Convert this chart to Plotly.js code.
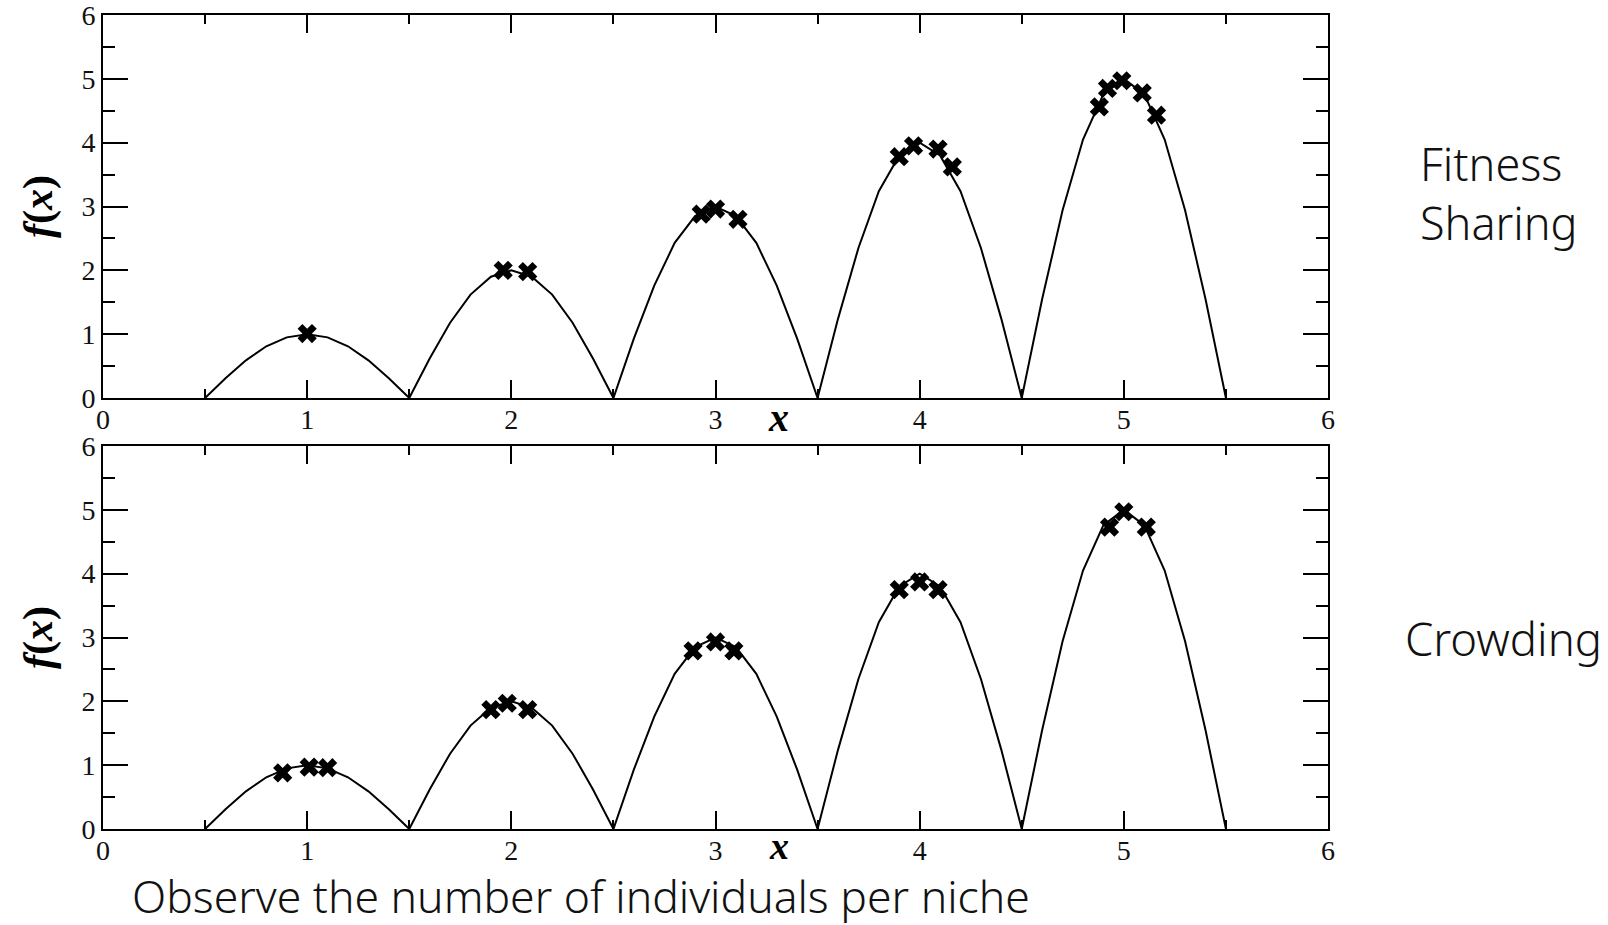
<!DOCTYPE html>
<html>
<head>
<meta charset="utf-8">
<script src="https://cdn.plot.ly/plotly-3.0.1.min.js"></script>
<style>html,body{margin:0;padding:0;background:#fff;}#chart{width:1608px;height:925px;}</style>
</head>
<body>
<div id="chart"></div>
<script>
// Curve f(x): five humps sampled every 0.1 on x
const curveX = [
  0.5,0.6,0.7,0.8,0.9,1.0,1.1,1.2,1.3,1.4,
  1.5,1.6,1.7,1.8,1.9,2.0,2.1,2.2,2.3,2.4,
  2.5,2.6,2.7,2.8,2.9,3.0,3.1,3.2,3.3,3.4,
  3.5,3.6,3.7,3.8,3.9,4.0,4.1,4.2,4.3,4.4,
  4.5,4.6,4.7,4.8,4.9,5.0,5.1,5.2,5.3,5.4,5.5
];
const curveY = [
  0,0.31,0.59,0.81,0.95,1.00,0.95,0.81,0.59,0.31,
  0,0.62,1.18,1.62,1.90,2.00,1.90,1.62,1.18,0.62,
  0,0.93,1.76,2.43,2.85,3.00,2.85,2.43,1.76,0.93,
  0,1.24,2.35,3.24,3.80,4.00,3.80,3.24,2.35,1.24,
  0,1.55,2.94,4.05,4.76,5.00,4.76,4.05,2.94,1.55,0
];
// Individuals found by Fitness Sharing (top panel)
const sharingX = [1.00, 1.96,2.08, 2.93,3.00,3.11, 3.90,3.97,4.09,4.16, 4.88,4.92,4.99,5.09,5.16];
const sharingY = [1.01, 2.00,1.98, 2.88,2.96,2.80, 3.78,3.95,3.90,3.62, 4.56,4.85,4.97,4.78,4.43];
// Individuals found by Crowding (bottom panel)
const crowdingX = [0.88,1.01,1.10, 1.90,1.98,2.08, 2.89,3.00,3.09, 3.90,4.00,4.09, 4.93,5.00,5.11];
const crowdingY = [0.88,0.97,0.96, 1.87,1.97,1.87, 2.79,2.93,2.79, 3.75,3.87,3.75, 4.73,4.97,4.73];
// Axis ticks
const tickVals = [0,1,2,3,4,5,6];
const tickText = ["0","1","2","3","4","5","6"];
const panelLabels = ["Fitness<br>Sharing", "Crowding"];
const caption = "Observe the number of individuals per niche";

const W = 1608, H = 925;
const serif = "Liberation Serif, Times New Roman, serif";
const sans = "Noto Sans, Open Sans, sans-serif";

const lineStyle = {color: "black", width: 2};
const markStyle = {symbol: "x", size: 17, color: "black", line: {width: 0}};

const traces = [
  {x: curveX, y: curveY, xaxis: "x", yaxis: "y", mode: "lines", line: lineStyle, hoverinfo: "skip"},
  {x: sharingX, y: sharingY, xaxis: "x", yaxis: "y", mode: "markers", marker: markStyle},
  {x: curveX, y: curveY, xaxis: "x2", yaxis: "y2", mode: "lines", line: lineStyle, hoverinfo: "skip"},
  {x: crowdingX, y: crowdingY, xaxis: "x2", yaxis: "y2", mode: "markers", marker: markStyle}
];

function xAxis(anchor) {
  return {
    anchor: anchor, domain: [103/W, 1328/W], range: [0, 6],
    tickmode: "array", tickvals: tickVals, ticktext: tickText,
    ticks: "inside", ticklen: 18, tickwidth: 2, tickcolor: "black",
    minor: {dtick: 0.5, tick0: 0, ticks: "inside", ticklen: 9, tickwidth: 2, tickcolor: "black"},
    showline: true, linecolor: "black", linewidth: 2, mirror: "ticks",
    showgrid: false, zeroline: false, ticklabeloverflow: "allow", ticklabelstandoff: -5,
    tickfont: {family: serif, size: 28, color: "#111"}
  };
}
function yAxis(anchor, dom) {
  return {
    anchor: anchor, domain: dom, range: [0, 6],
    tickmode: "array", tickvals: tickVals, ticktext: tickText,
    ticks: "inside", ticklen: 25, tickwidth: 2, tickcolor: "black",
    minor: {dtick: 0.5, tick0: 0, ticks: "inside", ticklen: 12, tickwidth: 2, tickcolor: "black"},
    showline: true, linecolor: "black", linewidth: 2, mirror: "ticks",
    showgrid: false, zeroline: false, ticklabeloverflow: "allow",
    tickfont: {family: serif, size: 28, color: "#111"},
    title: {text: "<b><i>f</i>(<i>x</i>)</b>", font: {family: serif, size: 42, color: "black"}, standoff: 16}
  };
}

const layout = {
  width: W, height: H,
  margin: {l: 0, r: 0, t: 0, b: 0},
  paper_bgcolor: "white", plot_bgcolor: "white",
  showlegend: false,
  xaxis: xAxis("y"),
  yaxis: yAxis("x", [1 - 398/H, 1 - 15/H]),
  xaxis2: xAxis("y2"),
  yaxis2: yAxis("x2", [1 - 829/H, 1 - 446/H]),
  annotations: [
    {text: "<b><i>x</i></b>", xref: "x", yref: "paper", x: 3.31, y: 1 - 417/H, yanchor: "middle", showarrow: false,
     borderpad: 0, font: {family: serif, size: 40, color: "black"}},
    {text: "<b><i>x</i></b>", xref: "x2", yref: "paper", x: 3.31, y: 1 - 846/H, yanchor: "middle", showarrow: false,
     borderpad: 0, font: {family: serif, size: 38, color: "black"}},
    {text: panelLabels[0], xref: "paper", yref: "paper", x: 1418/W, y: 1 - 193/H,
     xanchor: "left", yanchor: "middle", align: "left", showarrow: false,
     font: {family: sans, size: 45, weight: 300, color: "#111"}},
    {text: panelLabels[1], xref: "paper", yref: "paper", x: 1403/W, y: 1 - 638/H,
     xanchor: "left", yanchor: "middle", align: "left", showarrow: false,
     font: {family: sans, size: 45.5, weight: 300, color: "#111"}},
    {text: caption, xref: "paper", yref: "paper", x: 131/W, y: 1 - 895/H,
     xanchor: "left", yanchor: "middle", align: "left", showarrow: false, borderpad: 0,
     font: {family: sans, size: 44.5, weight: 300, color: "#111"}}
  ]
};

Plotly.newPlot("chart", traces, layout, {displayModeBar: false, staticPlot: true});
</script>
</body>
</html>
